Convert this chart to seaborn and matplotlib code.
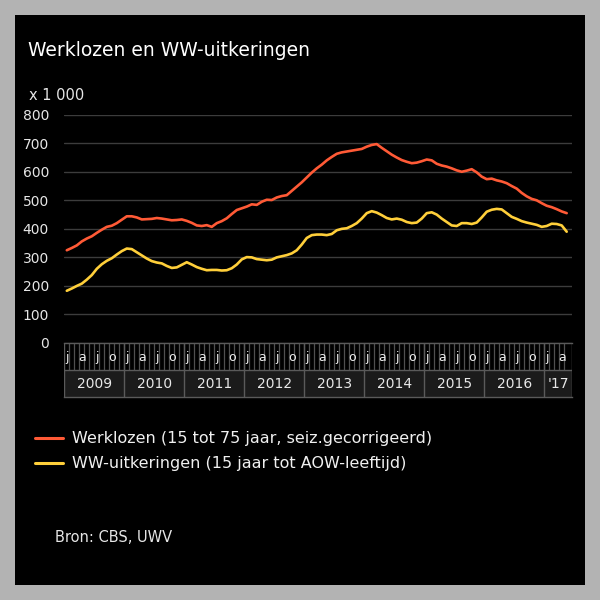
import numpy as np
import pandas as pd
import matplotlib
matplotlib.use("Agg")
import matplotlib.pyplot as plt
import seaborn as sns
from matplotlib.patches import Rectangle

# ---- data (x 1 000), monthly Jan 2009 - May 2017 ----
werklozen = [325, 333, 342, 356, 366, 374, 386, 397, 407, 411, 420, 432,
             444, 444, 440, 433, 434, 435, 438, 436, 433, 430, 431, 433,
             428, 421, 412, 410, 413, 407, 420, 427, 437, 452, 466, 472,
             478, 486, 484, 495, 502, 501, 510, 515, 518, 533, 548, 563,
             580, 597, 612, 625, 640, 652, 663, 668, 671, 674, 677, 680,
             688, 694, 697, 684, 672, 660, 650, 641, 635, 630, 632, 637,
             643, 640, 628, 622, 618, 612, 605, 600, 604, 609, 598, 583,
             574, 576, 570, 566, 560, 550, 541, 526, 514, 505, 500, 490,
             481, 476, 469, 461, 455]
ww = [183, 191, 200, 208, 222, 238, 260, 276, 288, 297, 310, 322,
      331, 329, 318, 307, 296, 287, 282, 279, 270, 263, 265, 274,
      283, 275, 266, 260, 255, 256, 256, 254, 255, 262, 275, 293,
      301, 300, 294, 292, 290, 292, 300, 304, 308, 314, 325, 345,
      368, 378, 380, 380, 378, 382, 395, 400, 402, 410, 420, 436,
      455, 462, 457, 448, 438, 433, 436, 432, 424, 420, 422, 436,
      455, 458, 450, 436, 424, 412, 410, 420, 420, 417, 422, 440,
      460, 467, 470, 468, 455, 442, 435, 427, 422, 418, 414, 407,
      410, 418, 417, 412, 390]
year_labels = ["2009", "2010", "2011", "2012", "2013", "2014", "2015", "2016", "'17"]
month_letters = ["j", "a", "j", "o"]   # Jan, Apr, Jul, Oct
series_names = ["Werklozen (15 tot 75 jaar, seiz.gecorrigeerd)",
                "WW-uitkeringen (15 jaar tot AOW-leeftijd)"]
series_colors = ["#ff5a36", "#ffcf3a"]
yticks = [0, 100, 200, 300, 400, 500, 600, 700, 800]

n = len(werklozen)
months = np.arange(n)
df = pd.DataFrame({
    "maand": np.concatenate([months, months]),
    "waarde": werklozen + ww,
    "reeks": [series_names[0]] * n + [series_names[1]] * n,
})

sns.set_theme(style="dark")
plt.rcParams["font.family"] = ["DejaVu Sans"]

W = H = 600
fig = plt.figure(figsize=(6, 6), dpi=100, facecolor="#b3b3b3")
fig.patches.append(Rectangle((15 / W, 15 / H), 570 / W, 570 / H, transform=fig.transFigure,
                             facecolor="black", edgecolor="none", zorder=-10))

def fx(px):
    return px / W

def fy(py):
    return 1 - py / H

left, right = 64.3, 571.7
top, bottom = 114.7, 343.0
ax = fig.add_axes([fx(left), fy(bottom), (right - left) / W, (bottom - top) / H])
ax.set_zorder(2)
ax.set_facecolor("black")
sns.lineplot(data=df, x="maand", y="waarde", hue="reeks", palette=series_colors,
             linewidth=1.9, ax=ax, legend=True)
handles, labels = ax.get_legend_handles_labels()
ax.get_legend().remove()
xmin, xmax = -0.5, n + 0.0
ax.set_xlim(xmin, xmax)
ax.set_ylim(0, 800)
ax.set_yticks(yticks)
ax.set_yticklabels([str(v) for v in yticks], color="#e6e6e6", fontsize=10)
ax.set_xticks([])
ax.set_xlabel("")
ax.set_ylabel("")
ax.tick_params(axis="y", length=0, pad=11)
ax.grid(axis="y", color="#3c3c3c", linewidth=1)
ax.grid(axis="x", visible=False)
for s in ax.spines.values():
    s.set_visible(False)
ax.set_axisbelow(True)

# ---- time band below ----
band_bottom = 397.0
band = fig.add_axes([fx(left), fy(band_bottom), (right - left) / W, (band_bottom - bottom) / H])
band.set_zorder(2)
band.set_facecolor("black")
band.set_xlim(xmin, xmax)
band.set_ylim(0, 2)
band.set_xticks([])
band.set_yticks([])
band.grid(False)
band.add_patch(Rectangle((xmin, 0), xmax - xmin, 1, facecolor="#1b1b1b", edgecolor="none"))
for s in band.spines.values():
    s.set_color("#5a5a5a")
    s.set_linewidth(1)
band.spines["left"].set_visible(False)
band.spines["right"].set_visible(False)
band.vlines(months[1:] - 0.5, 1, 2, color="#505050", linewidth=0.9)
band.axhline(1, color="#5a5a5a", linewidth=1)
year_starts = list(range(0, n, 12))
band.vlines([s - 0.5 for s in year_starts] + [xmax], 0, 2, color="#5a5a5a", linewidth=1)
for m in months:
    if m % 3 == 0:
        band.text(m, 1.45, month_letters[(m % 12) // 3], color="#eeeeee", fontsize=9,
                  ha="center", va="center")
for k, s in enumerate(year_starts):
    e = min(s + 12, xmax + 0.5)
    band.text((s - 0.5 + e - 0.5) / 2, 0.48, year_labels[k], color="#e8e8e8", fontsize=10,
              ha="center", va="center")

# ---- texts ----
fig.text(fx(28), fy(50), "Werklozen en WW-uitkeringen", color="white", fontsize=13.5,
         ha="left", va="center")
fig.text(fx(29), fy(95), "x 1 000", color="#e6e6e6", fontsize=10.5, ha="left", va="center")
fig.text(fx(55), fy(537), "Bron: CBS, UWV", color="#e6e6e6", fontsize=10.5, ha="left", va="center")

leg = fig.legend(handles, labels, loc="upper left", bbox_to_anchor=(fx(21), fy(417)),
                 frameon=False, fontsize=11.5, handlelength=1.7, handletextpad=0.6,
                 labelspacing=0.62, labelcolor="#f0f0f0")
for h in leg.legend_handles:
    h.set_linewidth(2.2)

fig.savefig("out.png", dpi=100, facecolor=fig.get_facecolor())
